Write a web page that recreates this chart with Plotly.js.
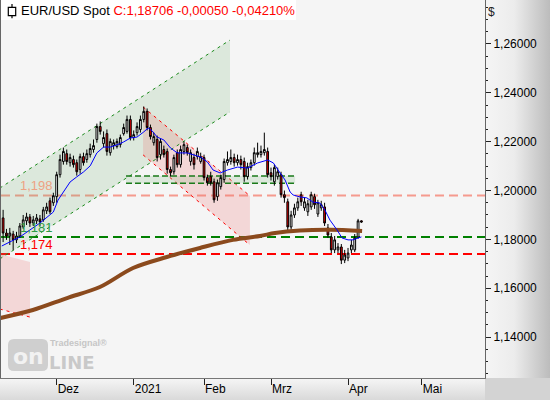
<!DOCTYPE html>
<html>
<head>
<meta charset="utf-8">
<script src="https://cdn.plot.ly/plotly-3.0.1.min.js"></script>
<style>html,body{margin:0;padding:0;background:#fff;}#chart{width:550px;height:400px;}</style>
</head>
<body>
<div id="chart"></div>
<script>
// ---------- DATA ----------
// Daily EUR/USD candles, Nov 9 2020 .. Apr 7 2021 (bar 0 = Dec 1 2020)
const firstBarIndex = -16;
const openPrices = [
  1.1888,1.1826,1.1814,1.1822,1.1798,1.1814,1.1851,1.1876,1.1892,1.1867,1.1876,1.1884,1.1880,1.1917,1.1958,1.1950,
  1.1975,1.2065,1.2119,1.2151,1.2114,1.2127,1.2114,1.2086,1.2139,1.2127,1.2147,1.2168,1.2209,1.2262,1.2192,1.2233,1.2155,1.2184,1.2180,1.2188,1.2233,1.2242,1.2291,
  1.2217,1.2237,1.2250,1.2291,1.2324,1.2258,1.2196,1.2209,1.2147,1.2168,1.2160,1.2086,1.2077,1.2155,1.2106,1.2160,1.2176,1.2119,1.2135,1.2139,1.2119,
  1.2135,1.2053,1.2057,1.2036,1.1975,1.2016,1.2045,1.2114,1.2119,1.2135,1.2114,1.2127,1.2119,1.2057,1.2094,1.2114,1.2147,1.2147,1.2155,1.2160,
  1.2073,1.2036,1.2057,1.2065,1.1983,1.1954,1.1851,1.1900,1.1929,1.1983,1.1929,1.1913,1.1933,1.1975,1.1904,1.1929,1.1933,1.1847,1.1810,1.1757,1.1757,1.1769,1.1715,
  1.1724,1.1757,1.1757,1.1810,1.1876
];
const highPrices = [
  1.1921,1.1843,1.1847,1.1835,1.1831,1.1867,1.1900,1.1909,1.1904,1.1896,1.1904,1.1900,1.1933,1.1950,1.1971,1.1991,
  1.2077,1.2147,1.2176,1.2168,1.2151,1.2143,1.2127,1.2151,1.2155,1.2168,1.2192,1.2209,1.2274,1.2283,1.2242,1.2250,1.2213,1.2209,1.2213,1.2229,1.2274,1.2307,1.2307,
  1.2246,1.2279,1.2307,1.2344,1.2336,1.2270,1.2237,1.2225,1.2213,1.2184,1.2172,1.2098,1.2147,1.2168,1.2184,1.2201,1.2188,1.2168,1.2151,1.2176,1.2155,
  1.2147,1.2065,1.2077,1.2049,1.2045,1.2065,1.2131,1.2160,1.2168,1.2151,1.2147,1.2143,1.2135,1.2114,1.2127,1.2176,1.2196,1.2184,1.2237,1.2176,
  1.2094,1.2106,1.2094,1.2077,1.2000,1.1967,1.1917,1.1946,1.1971,1.1995,1.1971,1.1962,1.1995,1.1987,1.1962,1.1958,1.1950,1.1863,1.1826,1.1814,1.1785,1.1781,1.1757,
  1.1765,1.1798,1.1822,1.1884,1.1878
];
const lowPrices = [
  1.1789,1.1798,1.1777,1.1757,1.1785,1.1806,1.1843,1.1859,1.1851,1.1855,1.1863,1.1855,1.1872,1.1904,1.1904,1.1937,
  1.1950,1.2053,1.2106,1.2106,1.2098,1.2094,1.2061,1.2069,1.2102,1.2114,1.2135,1.2155,1.2196,1.2229,1.2176,1.2143,1.2143,1.2168,1.2172,1.2176,1.2225,1.2233,1.2205,
  1.2205,1.2225,1.2237,1.2279,1.2246,1.2209,1.2184,1.2119,1.2127,1.2135,1.2069,1.2057,1.2065,1.2094,1.2094,1.2147,1.2143,1.2102,1.2086,1.2127,1.2110,
  1.2041,1.2020,1.2020,1.1950,1.1958,1.2004,1.2032,1.2102,1.2106,1.2098,1.2102,1.2086,1.2036,1.2045,1.2082,1.2102,1.2135,1.2135,1.2143,1.2053,
  1.2041,1.2020,1.2045,1.1971,1.1950,1.1835,1.1839,1.1888,1.1917,1.1937,1.1917,1.1896,1.1921,1.1925,1.1892,1.1917,1.1855,1.1806,1.1744,1.1744,1.1744,1.1699,1.1703,
  1.1711,1.1744,1.1748,1.1802,1.1868
];
const closePrices = [
  1.1826,1.1814,1.1826,1.1798,1.1814,1.1855,1.1880,1.1892,1.1867,1.1880,1.1888,1.1872,1.1921,1.1933,1.1913,1.1979,
  1.2065,1.2127,1.2160,1.2119,1.2135,1.2106,1.2077,1.2139,1.2114,1.2151,1.2172,1.2184,1.2262,1.2242,1.2217,1.2160,1.2201,1.2196,1.2201,1.2217,1.2258,1.2291,1.2217,
  1.2229,1.2262,1.2291,1.2324,1.2258,1.2221,1.2221,1.2135,1.2201,1.2147,1.2086,1.2073,1.2135,1.2106,1.2168,1.2188,1.2155,1.2155,1.2106,1.2160,1.2139,
  1.2053,1.2032,1.2032,1.1962,1.2032,1.2053,1.2119,1.2127,1.2135,1.2114,1.2127,1.2106,1.2057,1.2098,1.2114,1.2155,1.2155,1.2160,1.2168,1.2065,
  1.2057,1.2094,1.2077,1.1983,1.1971,1.1851,1.1900,1.1929,1.1954,1.1954,1.1954,1.1946,1.1983,1.1942,1.1950,1.1942,1.1867,1.1818,1.1757,1.1798,1.1769,1.1715,1.1736,
  1.1744,1.1777,1.1806,1.1876,1.1871
];

// Short moving average (blue)
const smaShortX = [-16.4,-11,-5,-1,0.4,2,4,6,8,10,12,14,16,18,20,22,24,26,27.3,28.5,30,32,34,36,39,43,45,46.7,48.8,51,54,57,60,63,64.7,66.7,68.2,69.7,70.6,72.6,74.7,76.5,78.6,80.1,81.6,83.7,85.2,87,88.5,90,91];
const smaShortY = [1.1773,1.1810,1.1867,1.1912,1.1961,1.1994,1.2035,1.2056,1.2076,1.2101,1.2154,1.2178,1.2178,1.2187,1.2199,1.2215,1.2219,1.2240,1.2256,1.2244,1.2219,1.2207,1.2174,1.2154,1.2154,1.2137,1.2117,1.2084,1.2072,1.2084,1.2096,1.2092,1.2113,1.2125,1.2113,1.2072,1.2043,1.1994,1.1982,1.1974,1.1970,1.1953,1.1949,1.1920,1.1879,1.1839,1.1806,1.1798,1.1798,1.1806,1.1810];

// Long moving average (brown)
const smaLongX = [-16.9,-7.1,3.1,12.9,22.8,32.9,42.8,52.6,60.7,65.2,72.6,81.6,91.2];
const smaLongY = [1.1478,1.1511,1.1560,1.1605,1.1683,1.1728,1.1765,1.1798,1.1814,1.1826,1.1836,1.1839,1.1834];

// Horizontal levels
const levelValues = [1.198, 1.181, 1.174];
const levelNames  = ['resist', 'support1', 'support2'];

// Trend channels: [x start, x end] and [price at start, price at end]
const upChannelX = [-17, 51.75];
const upChannelTop = [1.2010, 1.2616];
const upChannelBottom = [1.1720, 1.2322];
const downChannelX = [25.8, 57.7];
const downChannelTop = [1.2342, 1.1978];
const downChannelBottom = [1.2146, 1.1777];
const prevChannelX = [-17, -7.97];
const prevChannelTop = [1.1740, 1.1707];
const prevChannelBottom = [1.1515, 1.1482];

// Small horizontal zone
const zoneX = [20.7, 71.2];
const zonePrices = [1.2030, 1.2060];

// Axis ticks
const monthTickPos = [0, 23, 44, 64, 87, 109];
const monthLabels = ['Dez', '2021', 'Feb', 'Mrz', 'Apr', 'Mai'];

// Header values
const symbolName = 'EUR/USD Spot';
const lastClose = 1.18706;
const changeAbs = -0.00050;
const changePct = -0.04210;

// ---------- CHART ----------
const barIndex = closePrices.map((_, k) => firstBarIndex + k);

const W = 550, H = 400, M = {l: 1, r: 65, t: 0, b: 22};
const PW = W - M.l - M.r, PH = H - M.t - M.b;
const px = x => (x - M.l) / PW;
const py = y => (H - M.b - y) / PH;
const fmt = (v, d) => v.toFixed(d).replace('.', ',');

const levelColors = {resist: '#f59a8e', support1: '#008000', support2: '#ff0000'};
const levelTextColors = {resist: '#eea283', support1: '#2f9a45', support2: '#ff0000'};

const traces = [
  {
    type: 'candlestick', x: barIndex,
    open: openPrices, high: highPrices, low: lowPrices, close: closePrices,
    increasing: {line: {color: '#000000', width: 1}, fillcolor: '#ffffff'},
    decreasing: {line: {color: '#000000', width: 1}, fillcolor: '#e60000'},
    whiskerwidth: 0, hoverinfo: 'skip', showlegend: false
  },
  {type: 'scatter', mode: 'lines', x: smaLongX, y: smaLongY,
   line: {color: '#8b4a1d', width: 4, shape: 'spline', smoothing: 0.9}, hoverinfo: 'skip', showlegend: false},
  {type: 'scatter', mode: 'lines', x: smaShortX, y: smaShortY,
   line: {color: '#0000ff', width: 1}, hoverinfo: 'skip', showlegend: false}
];

function chanPath(xs, top, bot) {
  return `M${xs[0]},${top[0]} L${xs[1]},${top[1]} L${xs[1]},${bot[1]} L${xs[0]},${bot[0]} Z`;
}
function chanLine(xs, ys, color) {
  return {type: 'line', xref: 'x', yref: 'y', x0: xs[0], x1: xs[1], y0: ys[0], y1: ys[1],
          line: {color: color, width: 1, dash: '3px,4px'}, layer: 'below'};
}

const shapes = [];
// title background box
shapes.push({type: 'rect', xref: 'paper', yref: 'paper', x0: px(0), x1: px(296), y0: py(20), y1: py(0),
  fillcolor: '#ffffff', line: {width: 0}, layer: 'below'});
// channels
shapes.push({type: 'path', xref: 'x', yref: 'y', path: chanPath(upChannelX, upChannelTop, upChannelBottom),
  fillcolor: 'rgba(110,175,110,0.18)', line: {width: 0}, layer: 'below'});
shapes.push({type: 'path', xref: 'x', yref: 'y', path: chanPath(downChannelX, downChannelTop, downChannelBottom),
  fillcolor: 'rgba(235,110,110,0.22)', line: {width: 0}, layer: 'below'});
shapes.push({type: 'path', xref: 'x', yref: 'y', path: chanPath(prevChannelX, prevChannelTop, prevChannelBottom),
  fillcolor: 'rgba(235,110,110,0.22)', line: {width: 0}, layer: 'below'});
shapes.push(chanLine(upChannelX, upChannelTop, '#1a8a1a'));
shapes.push(chanLine(upChannelX, upChannelBottom, '#1a8a1a'));
shapes.push(chanLine(downChannelX, downChannelTop, '#ff0000'));
shapes.push(chanLine(downChannelX, downChannelBottom, '#ff0000'));
shapes.push(chanLine(prevChannelX, prevChannelBottom, '#ff0000'));
// zone
shapes.push({type: 'rect', xref: 'x', yref: 'y', x0: zoneX[0], x1: zoneX[1], y0: zonePrices[0], y1: zonePrices[1],
  fillcolor: 'rgba(110,175,110,0.18)', line: {width: 0}, layer: 'below'});
zonePrices.forEach(p => shapes.push({type: 'line', xref: 'x', yref: 'y', x0: zoneX[0], x1: zoneX[1], y0: p, y1: p,
  line: {color: '#1a7a1a', width: 1.5, dash: '6px,3px'}, layer: 'below'}));
// horizontal levels
levelValues.forEach((v, k) => shapes.push({type: 'line', xref: 'paper', yref: 'y', x0: 0, x1: 1, y0: v, y1: v,
  line: {color: levelColors[levelNames[k]], width: 2, dash: '9px,5px'}, layer: 'below'}));
// watermark block
(function () {
  const x0 = 8, x1 = 48, y0 = 339, y1 = 371, r = 6;
  const P = (x, y) => `${px(x)},${py(y)}`;
  shapes.push({type: 'path', xref: 'paper', yref: 'paper', layer: 'below', fillcolor: '#cfcfcf', line: {width: 0},
    path: `M${P(x0 + r, y0)} L${P(x1 - r, y0)} Q${P(x1, y0)} ${P(x1, y0 + r)} L${P(x1, y1 - r)} Q${P(x1, y1)} ${P(x1 - r, y1)} L${P(x0 + r, y1)} Q${P(x0, y1)} ${P(x0, y1 - r)} L${P(x0, y0 + r)} Q${P(x0, y0)} ${P(x0 + r, y0)} Z`});
})();
// candle icon in header
shapes.push({type: 'line', xref: 'paper', yref: 'paper', x0: px(12), x1: px(12), y0: py(18.3), y1: py(4),
  line: {color: '#000', width: 1.2}, layer: 'above'});
shapes.push({type: 'rect', xref: 'paper', yref: 'paper', x0: px(8.3), x1: px(15.7), y0: py(15.7), y1: py(7.3),
  fillcolor: '#ffffff', line: {color: '#000', width: 1.2}, layer: 'above'});

const annotations = [];
annotations.push({xref: 'paper', yref: 'paper', x: px(19), y: py(11), xanchor: 'left', yanchor: 'middle', showarrow: false,
  text: `${symbolName} <span style="color:#ff0000">C:${fmt(lastClose, 5)} ${fmt(changeAbs, 5)} ${fmt(changePct, 5)}%</span>`,
  font: {size: 13, color: '#000'}});
annotations.push({xref: 'paper', yref: 'paper', x: px(486), y: py(12), xanchor: 'left', yanchor: 'middle', showarrow: false,
  text: '$', font: {size: 12, color: '#222'}});
levelValues.forEach((v, k) => annotations.push({xref: 'paper', yref: 'y', x: px(18), y: v, xanchor: 'left', yanchor: 'bottom',
  showarrow: false, text: fmt(v, 3), font: {size: 13, color: levelTextColors[levelNames[k]]}}));
// watermark texts
annotations.push({xref: 'paper', yref: 'paper', x: px(28), y: py(356), xanchor: 'center', yanchor: 'middle', showarrow: false,
  text: '<b>on</b>', font: {family: 'DejaVu Sans', size: 22, color: '#f2f2f2'}});
annotations.push({xref: 'paper', yref: 'paper', x: px(48), y: py(362), xanchor: 'left', yanchor: 'middle', showarrow: false,
  borderpad: 0, text: '<b>LINE</b>', font: {family: 'DejaVu Sans', size: 18, color: '#c9c9c9'}});
annotations.push({xref: 'paper', yref: 'paper', x: px(49), y: py(343), xanchor: 'left', yanchor: 'middle', showarrow: false,
  borderpad: 0, text: '<b>Tradesignal®</b>', font: {size: 9, color: '#c6c6c6'}});

function gradSvg(w, h, horizontal, stops) {
  const g = horizontal ? 'x1="0" y1="0" x2="1" y2="0"' : 'x1="0" y1="0" x2="0" y2="1"';
  const st = stops.map(s => `<stop offset="${s[0]}" stop-color="${s[1]}"/>`).join('');
  const svg = `<svg xmlns="http://www.w3.org/2000/svg" width="${w}" height="${h}" viewBox="0 0 ${w} ${h}" preserveAspectRatio="none"><defs><linearGradient id="g" ${g}>${st}</linearGradient></defs><rect x="0" y="0" width="${w}" height="${h}" fill="url(#g)"/></svg>`;
  return 'data:image/svg+xml;charset=utf-8,' + encodeURIComponent(svg);
}

const images = [
  {source: gradSvg(65, 378, true, [[0, '#f5f5f5'], [0.45, '#ececec'], [1, '#bcbcbc']]),
   xref: 'paper', yref: 'paper', x: px(485), y: 1, sizex: 65 / PW, sizey: 1,
   xanchor: 'left', yanchor: 'top', sizing: 'stretch', layer: 'below'},
  {source: gradSvg(486, 22, false, [[0, '#f6f6f6'], [1, '#d9d9d9']]),
   xref: 'paper', yref: 'paper', x: px(0), y: 0, sizex: 486 / PW, sizey: 22 / PH,
   xanchor: 'left', yanchor: 'top', sizing: 'stretch', layer: 'below'},
  {source: gradSvg(65, 22, false, [[0, '#d3d3d3'], [1, '#d3d3d3']]),
   xref: 'paper', yref: 'paper', x: px(485), y: 0, sizex: 65 / PW, sizey: 22 / PH,
   xanchor: 'left', yanchor: 'top', sizing: 'stretch', layer: 'below'}
];

const layout = {
  width: W, height: H,
  margin: {l: M.l, r: M.r, t: M.t, b: M.b, pad: 0},
  paper_bgcolor: '#ffffff', plot_bgcolor: '#f5f5f5',
  separators: ',.',
  font: {family: '"Liberation Sans", Arial, sans-serif', size: 12, color: '#000'},
  showlegend: false,
  boxgap: 0.25,
  xaxis: {
    type: 'linear', range: [-16.63, 127.9], fixedrange: true,
    tickmode: 'array', tickvals: monthTickPos, ticktext: monthLabels,
    ticks: 'outside', ticklen: 6, tickwidth: 1, tickcolor: '#222',
    ticklabelposition: 'outside right',
    tickfont: {size: 12, color: '#000'},
    showgrid: false, zeroline: false,
    showline: true, linecolor: '#777777', linewidth: 1, mirror: true,
    rangeslider: {visible: false}
  },
  yaxis: {
    side: 'right', range: [1.12326, 1.2780], fixedrange: true,
    tickmode: 'linear', tick0: 1.14, dtick: 0.02, tickformat: '.5f',
    ticks: 'outside', ticklen: 5, tickwidth: 1, tickcolor: '#222',
    tickfont: {size: 12, color: '#000'},
    minor: {tick0: 1.14, dtick: 0.005, ticks: 'outside', ticklen: 2, tickcolor: '#222', showgrid: false},
    showgrid: false, zeroline: false,
    showline: true, linecolor: '#666666', linewidth: 1, mirror: true
  },
  shapes: shapes,
  annotations: annotations,
  images: images
};

Plotly.newPlot('chart', traces, layout, {staticPlot: true, displayModeBar: false});
</script>
</body>
</html>
